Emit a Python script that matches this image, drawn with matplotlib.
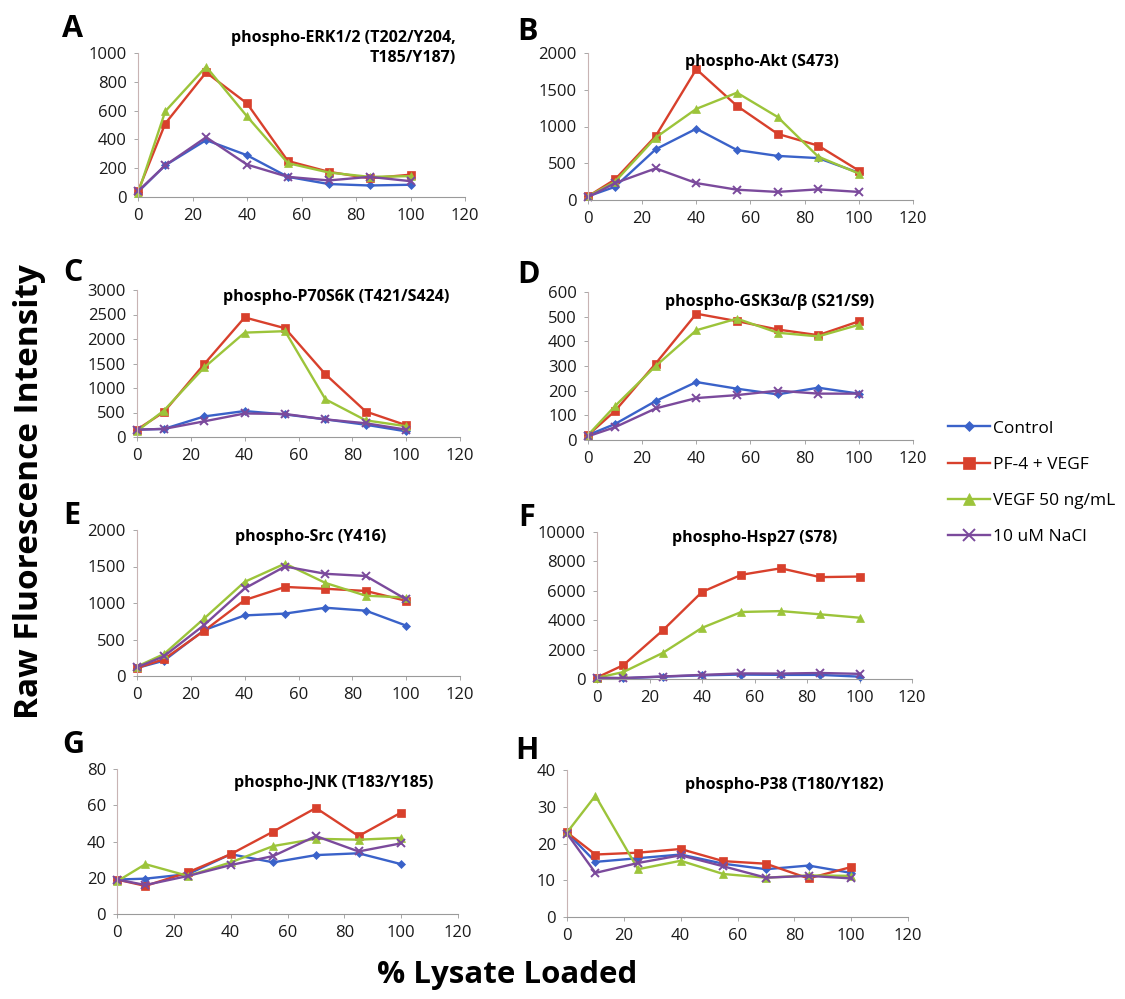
import matplotlib
matplotlib.use("Agg")
import matplotlib.pyplot as plt

plt.rcParams['font.family'] = ['Open Sans', 'DejaVu Sans']

lysate = [0, 10, 25, 40, 55, 70, 85, 100]
series_names = ['Control', 'PF-4 + VEGF', 'VEGF 50 ng/mL', '10 uM NaCl']

erk_control = [35, 220, 395, 290, 140, 90, 80, 85]
erk_pf4 = [40, 510, 865, 650, 250, 175, 130, 155]
erk_vegf = [25, 595, 905, 560, 235, 170, 140, 145]
erk_nacl = [40, 220, 415, 225, 140, 115, 140, 110]

akt_control = [50, 180, 690, 970, 680, 600, 570, 370]
akt_pf4 = [50, 280, 870, 1780, 1280, 900, 740, 400]
akt_vegf = [50, 250, 850, 1240, 1460, 1130, 590, 360]
akt_nacl = [40, 230, 430, 230, 140, 110, 145, 110]

p70_control = [150, 165, 420, 530, 460, 360, 250, 115]
p70_pf4 = [150, 510, 1490, 2440, 2220, 1280, 520, 240]
p70_vegf = [120, 540, 1420, 2130, 2160, 770, 340, 220]
p70_nacl = [150, 165, 320, 480, 470, 360, 280, 150]

gsk_control = [20, 65, 158, 235, 208, 185, 212, 188]
gsk_pf4 = [20, 118, 310, 512, 482, 448, 425, 481]
gsk_vegf = [20, 138, 300, 445, 492, 435, 420, 467]
gsk_nacl = [15, 52, 128, 170, 182, 200, 188, 188]

src_control = [110, 210, 630, 830, 855, 935, 895, 690]
src_pf4 = [110, 230, 620, 1040, 1220, 1195, 1165, 1030]
src_vegf = [130, 300, 790, 1290, 1540, 1275, 1100, 1075]
src_nacl = [120, 270, 700, 1200, 1500, 1400, 1370, 1050]

hsp_control = [80, 50, 160, 250, 300, 280, 280, 160]
hsp_pf4 = [100, 940, 3300, 5920, 7090, 7530, 6930, 6970]
hsp_vegf = [80, 470, 1770, 3480, 4560, 4620, 4400, 4170]
hsp_nacl = [80, 70, 170, 280, 380, 370, 410, 350]

jnk_control = [19, 19.5, 22, 33, 28.5, 32.5, 33.5, 27.5]
jnk_pf4 = [19, 15.5, 23, 33, 45.5, 58.5, 43, 56]
jnk_vegf = [18, 27.5, 21, 28.5, 37.5, 41.5, 41, 42]
jnk_nacl = [19, 16, 21, 27, 32, 43, 34.5, 39]

p38_control = [23, 15, 16, 17, 14.5, 13, 14, 12]
p38_pf4 = [23, 17, 17.5, 18.5, 15.2, 14.5, 10.5, 13.6]
p38_vegf = [23, 33, 13, 15.3, 11.7, 10.7, 11.3, 11.2]
p38_nacl = [22.7, 12, 14.7, 16.8, 13.8, 10.7, 11.2, 10.5]

colors = ['#3a62c9', '#d8402c', '#9cc43a', '#7b4a9c']
markers = ['D', 's', '^', 'x']
msizes = [4, 6, 6, 6]

W, H = 1125, 999
fig = plt.figure(figsize=(W / 100, H / 100), dpi=100)

# left, top, right, bottom in pixels; ymax, ystep, title, title x/y (px), letter x/y
panels = [
    ('A', (138, 53, 465, 197), 1000, 200, [erk_control, erk_pf4, erk_vegf, erk_nacl],
     'phospho-ERK1/2 (T202/Y204,\nT185/Y187)', (456, 48), 'right', (62, 37)),
    ('B', (588, 53, 913, 200), 2000, 500, [akt_control, akt_pf4, akt_vegf, akt_nacl],
     'phospho-Akt (S473)', (762, 62), 'center', (517, 40)),
    ('C', (137, 290, 460, 437), 3000, 500, [p70_control, p70_pf4, p70_vegf, p70_nacl],
     'phospho-P70S6K (T421/S424)', (336, 297), 'center', (63, 281)),
    ('D', (588, 292, 913, 440), 600, 100, [gsk_control, gsk_pf4, gsk_vegf, gsk_nacl],
     'phospho-GSK3α/β (S21/S9)', (770, 302), 'center', (517, 283)),
    ('E', (137, 530, 460, 676), 2000, 500, [src_control, src_pf4, src_vegf, src_nacl],
     'phospho-Src (Y416)', (311, 537), 'center', (63, 524)),
    ('F', (597, 532, 912, 679), 10000, 2000, [hsp_control, hsp_pf4, hsp_vegf, hsp_nacl],
     'phospho-Hsp27 (S78)', (755, 538), 'center', (518, 526)),
    ('G', (117, 769, 458, 914), 80, 20, [jnk_control, jnk_pf4, jnk_vegf, jnk_nacl],
     'phospho-JNK (T183/Y185)', (334, 783), 'center', (62, 753)),
    ('H', (567, 770, 908, 917), 40, 10, [p38_control, p38_pf4, p38_vegf, p38_nacl],
     'phospho-P38 (T180/Y182)', (784, 785), 'center', (515, 759)),
]

handles = []
for letter, (l, t, r, b), ymax, ystep, data, title, (tx, ty), ha, (lx, ly) in panels:
    ax = fig.add_axes([l / W, 1 - b / H, (r - l) / W, (b - t) / H])
    hs = []
    for vals, c, m, ms in zip(data, colors, markers, msizes):
        h, = ax.plot(lysate, vals, color=c, marker=m, markersize=ms, lw=1.7,
                     markeredgewidth=1.4 if m == 'x' else 0.5, clip_on=False)
        hs.append(h)
    if not handles:
        handles = hs
    ax.set_xlim(0, 120)
    ax.set_ylim(0, ymax)
    ax.set_xticks(range(0, 121, 20))
    ax.set_yticks(range(0, ymax + 1, ystep))
    for side in ['top', 'right']:
        ax.spines[side].set_visible(False)
    ax.spines['left'].set_color('#c8b4b4')
    ax.spines['bottom'].set_color('#9a9a9a')
    ax.spines['left'].set_linewidth(0.8)
    ax.spines['bottom'].set_linewidth(0.8)
    ax.tick_params(direction='out', length=3, width=0.6, color='#999999',
                   labelsize=12, labelcolor='#1a1a1a', pad=5)
    fig.text(tx / W, 1 - ty / H, title, ha=ha, va='center', fontsize=11.5,
             fontweight='bold', linespacing=1.35)
    fig.text(lx / W, 1 - ly / H, letter, ha='left', va='baseline', fontsize=22,
             fontweight='bold')

fig.text(30 / W, 1 - 492 / H, 'Raw Fluorescence Intensity', rotation=90,
         ha='center', va='center', fontsize=24, fontweight='bold')
fig.text(507 / W, 1 - 975 / H, '% Lysate Loaded', ha='center', va='center',
         fontsize=22.5, fontweight='bold')

fig.legend(handles, series_names, loc='upper left',
           bbox_to_anchor=(938 / W, 1 - 410 / H), frameon=False,
           fontsize=12.5, handlelength=2.4, handletextpad=0.15, labelspacing=1.15,
           markerscale=1.4, borderaxespad=0.2)

fig.savefig('out.png', dpi=100)
